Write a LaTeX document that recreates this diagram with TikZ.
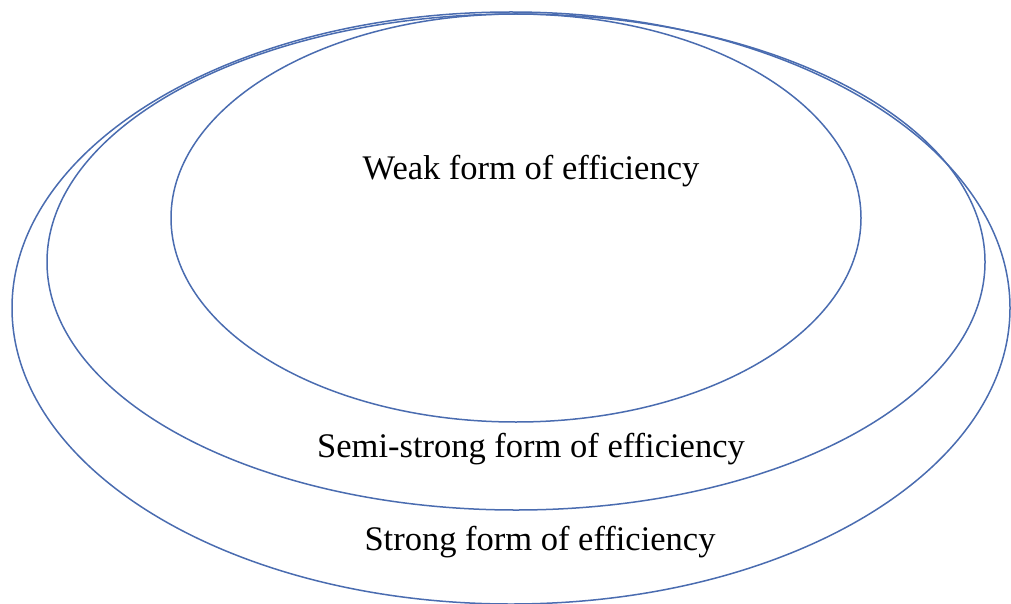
\documentclass[tikz,border=0pt]{standalone}
\usepackage{fontspec}
\setmainfont{Liberation Serif}
\usepackage{tikz}

\definecolor{ringblue}{HTML}{4A6CB0}

\begin{document}
\begin{tikzpicture}[x=1pt,y=-1pt]
\tikzset{ring/.style={draw=ringblue,line width=1.5pt},
         formlabel/.style={font=\fontsize{34.5}{40}\selectfont,inner sep=0pt,anchor=base}}
\useasboundingbox (0,0) rectangle (1011,604);

\draw [ring] (511,308) ellipse [x radius=499, y radius=296] ;
\draw [ring] (516,262) ellipse [x radius=469, y radius=248] ;
\draw [ring] (516,218) ellipse [x radius=345, y radius=204] ;

\node [formlabel] (weak) at (531,180) {Weak form of efficiency};
\node [formlabel] (semi) at (531,457) {Semi-strong form of efficiency};
\node [formlabel] (strong) at (540,550) {Strong form of efficiency};
\end{tikzpicture}
\end{document}
